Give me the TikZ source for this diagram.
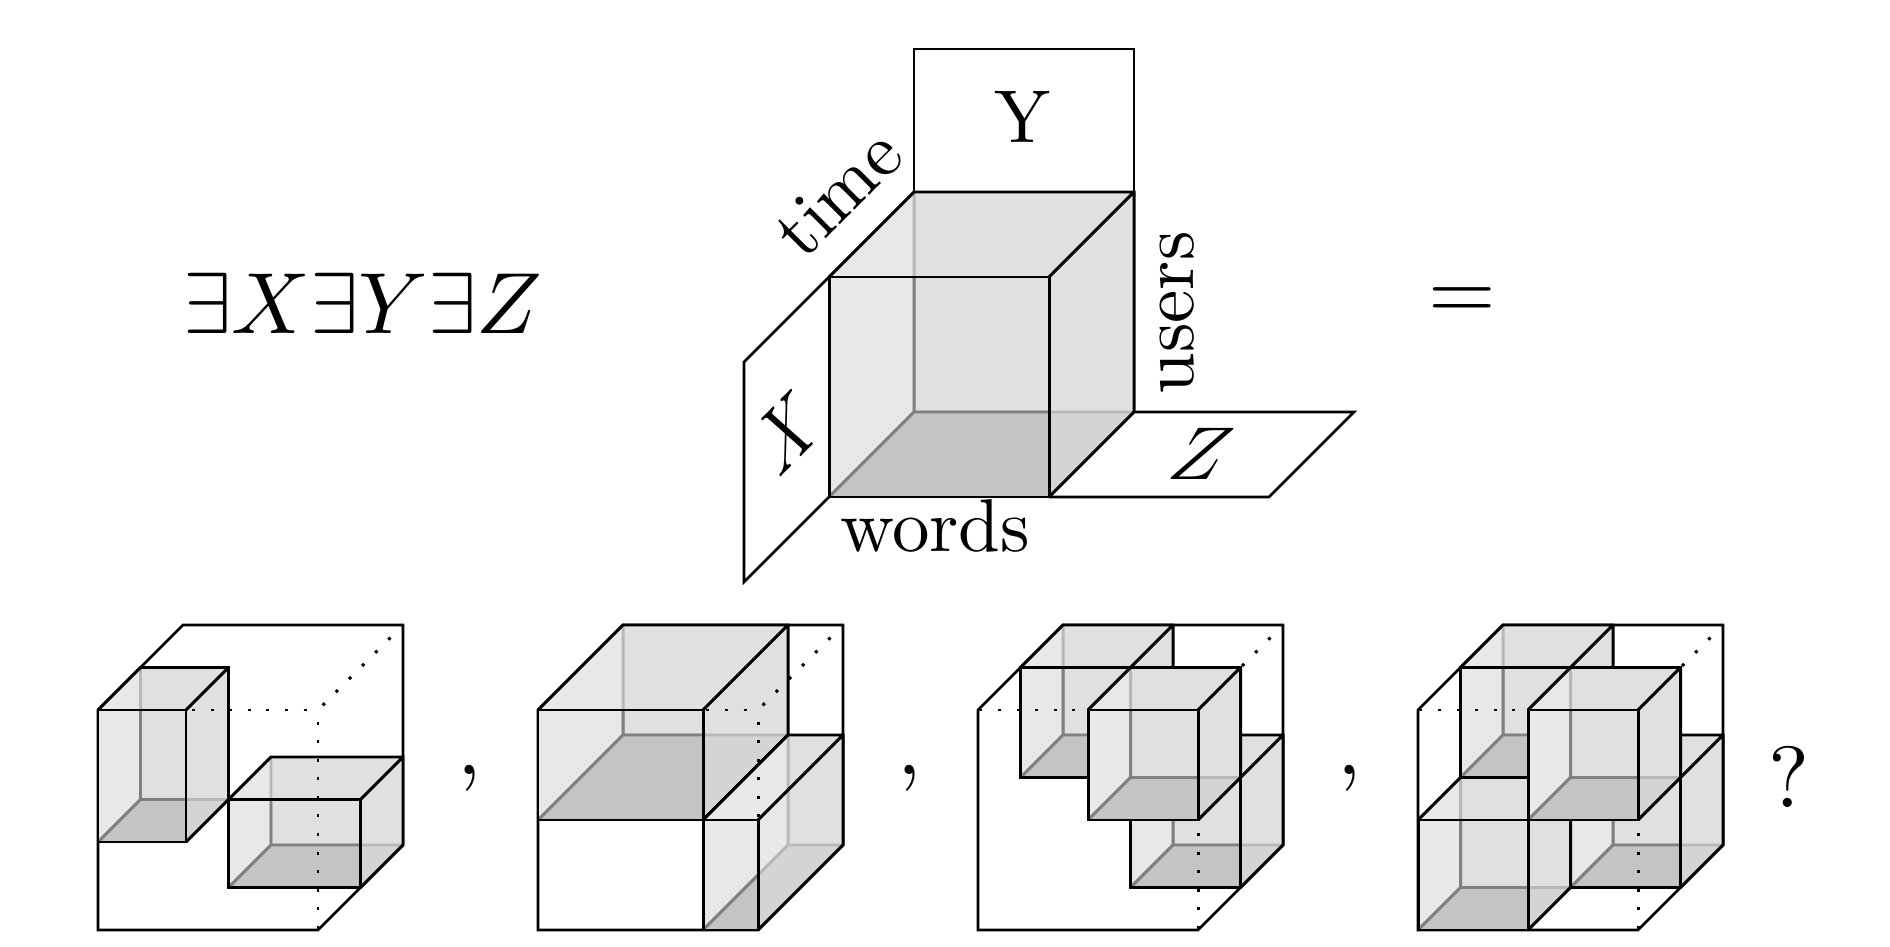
\documentclass[tikz,border=0pt]{standalone}
\usepackage{amsmath}
\tikzset{
  bigtxt/.style={scale=2.47,transform shape},
  midtxt/.style={scale=2.13,transform shape},
  plane/.style={line width=.72pt},
  edge/.style={line width=.85pt},
  backedge/.style={line width=.85pt,black!28},
  backedgein/.style={line width=.85pt,black!50},
  dotedge/.style={line width=.85pt,dash pattern=on .85pt off 4.43pt},
  unitbox/.style={x={(2.2cm,0cm)},y={(0cm,2.2cm)},z={(.85cm,.85cm)}}
}
% one box from corner (#1,#2,#3) to corner (#4,#5,#6)
\newcommand{\tcube}[6]{
  \fill[black!12] (#1,#2,#3)--(#1,#5,#3)--(#1,#5,#6)--(#4,#5,#6)--(#4,#2,#6)--(#4,#2,#3)--cycle;
  \fill[black!9] (#1,#2,#3)--(#1,#5,#3)--(#1,#5,#6)--(#1,#2,#6)--cycle;
  \fill[black!17] (#1,#2,#3)--(#1,#2,#6)--(#4,#2,#6)--(#4,#2,#3)--cycle;
  \draw[backedge] (#1,#2,#3)--(#1,#2,#6)--(#4,#2,#6) (#1,#2,#6)--(#1,#5,#6);
  \begin{scope}
    \clip (#1,#2,#3) rectangle (#4,#5,#3);
    \fill[black!23] (#1,#2,#3)--(#1,#2,#6)--(#4,#2,#6)--(#4,#2,#3)--cycle;
    \draw[backedgein] (#1,#2,#3)--(#1,#2,#6)--(#4,#2,#6) (#1,#2,#6)--(#1,#5,#6);
  \end{scope}
  \draw[edge] (#1,#2,#3) rectangle (#4,#5,#3);
  \draw[edge] (#1,#5,#3)--(#1,#5,#6)--(#4,#5,#6)--(#4,#2,#6)--(#4,#2,#3) (#4,#5,#3)--(#4,#5,#6);
}
\newcommand{\outerbox}{
  \draw[plane] (0,0,0)--(1,0,0)--(1,0,1)--(1,1,1)--(0,1,1)--(0,1,0)--cycle;
}
\newcommand{\diagdots}{
  \draw[dotedge,dash phase=3.38pt] (1,1,0)--(1,1,1);
}
\newcommand{\edgedots}{
  \draw[dotedge,dash phase=4.88pt] (0,1,0)--(1,1,0);
  \draw[dotedge,dash phase=1.95pt] (1,1,0)--(1,0,0);
}
\begin{document}
\begin{tikzpicture}
  \useasboundingbox (0,0) rectangle (18.9,9.46);

  \node[bigtxt] (quant) at (3.63,6.43) {$\exists X \exists Y \exists Z$};
  \node[bigtxt] (equal) at (14.62,6.42) {$=$};

  % labelled box
  \begin{scope}[shift={(8.29,4.49)},unitbox]
    \draw[plane] (0,1,1)--(0,1.65,1)--(1,1.65,1)--(1,1,1);
    \draw[plane] (0,1,0)--(0,1,-1)--(0,0,-1)--(0,0,0);
    \draw[plane] (1,0,1)--(2,0,1)--(2,0,0)--(1,0,0);
    \tcube{0}{0}{0}{1}{1}{1}
  \end{scope}
  \node[midtxt] (ylabel) at (10.23,8.29) {Y};
  \node[cm={1.33,1.33,-1.15,2.08,(0,0)},transform shape] (xlabel) at (7.87,5.14) {$X$};
  \node[xslant=.26,midtxt] (zlabel) at (12.01,4.92) {$Z$};
  \node[midtxt,anchor=base] (words) at (9.35,3.95) {words};
  \node[midtxt,anchor=base,rotate=90] (users) at (11.93,6.33) {users};
  \node[midtxt,rotate=45] (time) at (8.38,7.53) {time};

  % first
  \begin{scope}[shift={(.98,.16)},unitbox]
    \outerbox
    \tcube{0}{.4}{0}{.4}{1}{.5}
    \tcube{.4}{0}{.5}{1}{.4}{1}
    \diagdots
    \edgedots
  \end{scope}
  \node[bigtxt,anchor=base] (comma1) at (4.70,1.72) {,};

  % second
  \begin{scope}[shift={(5.38,.16)},unitbox]
    \outerbox
    \tcube{0}{.5}{0}{.75}{1}{1}
    \tcube{.75}{0}{0}{1}{.5}{1}
    \diagdots
    \edgedots
  \end{scope}
  \node[bigtxt,anchor=base] (comma2) at (9.10,1.72) {,};

  % third
  \begin{scope}[shift={(9.78,.16)},unitbox]
    \outerbox
    \tcube{0}{.5}{.5}{.5}{1}{1}
    \tcube{.5}{0}{.5}{1}{.5}{1}
    \diagdots
    \tcube{.5}{.5}{0}{1}{1}{.5}
    \edgedots
  \end{scope}
  \node[bigtxt,anchor=base] (comma3) at (13.50,1.72) {,};

  % fourth
  \begin{scope}[shift={(14.18,.16)},unitbox]
    \outerbox
    \tcube{0}{.5}{.5}{.5}{1}{1}
    \tcube{.5}{0}{.5}{1}{.5}{1}
    \tcube{0}{0}{0}{.5}{.5}{.5}
    \diagdots
    \tcube{.5}{.5}{0}{1}{1}{.5}
    \edgedots
  \end{scope}
  \node[bigtxt,anchor=base] (quest) at (17.89,1.39) {?};
\end{tikzpicture}
\end{document}
